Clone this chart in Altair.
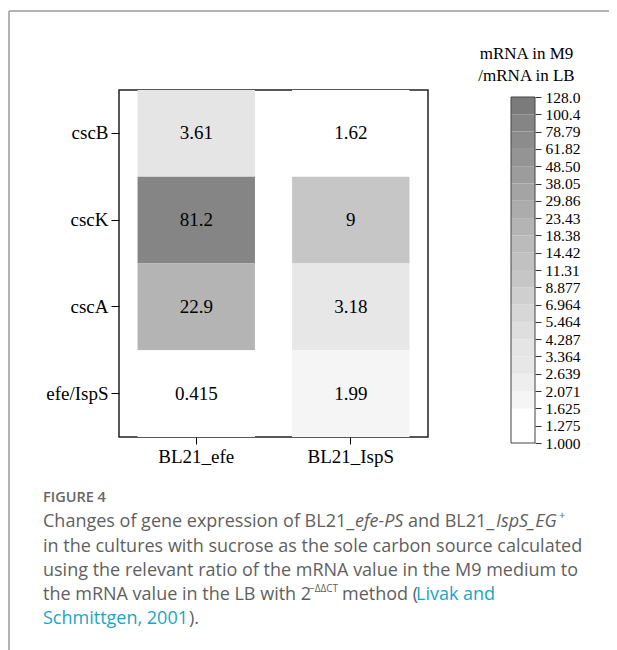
import altair as alt
import pandas as pd

# ---------------- data ----------------
strains = ["BL21_efe", "BL21_IspS"]
genes = ["cscB", "cscK", "cscA", "efe/IspS"]
efe_values = [3.61, 81.2, 22.9, 0.415]
isps_values = [1.62, 9, 3.18, 1.99]
efe_labels = ["3.61", "81.2", "22.9", "0.415"]
isps_labels = ["1.62", "9", "3.18", "1.99"]

legend_ticks = [1.000, 1.275, 1.625, 2.071, 2.639, 3.364, 4.287, 5.464, 6.964,
                8.877, 11.31, 14.42, 18.38, 23.43, 29.86, 38.05, 48.50, 61.82,
                78.79, 100.4, 128.0]
legend_title = ["mRNA in M9", "/mRNA in LB"]

# ---------------- styles ----------------
bin_greys = [255, 255, 245, 238, 231, 229, 222, 215, 207, 198,
             193, 187, 180, 172, 164, 156, 148, 140, 133, 123]
grey_hex = ["#%02x%02x%02x" % (g, g, g) for g in bin_greys]
SERIF = "Liberation Serif"
SANS = "Open Sans"
OX, OY = 119, 90          # page position of the heat-map plot area
W, H = 309, 347
BAR_L, BAR_R = 511, 535   # page x of the colour bar


def rx(x):
    return x - OX


def ry(y):
    return y - OY


color_scale = alt.Scale(type="threshold", domain=legend_ticks[1:-1], range=grey_hex)

heat_df = pd.DataFrame({
    "strain": [strains[0]] * 4 + [strains[1]] * 4,
    "gene": genes + genes,
    "value": efe_values + isps_values,
    "label": efe_labels + isps_labels,
})

xenc = alt.X("strain:N", sort=strains, title=None,
             scale=alt.Scale(paddingInner=0.24, paddingOuter=0.12),
             axis=alt.Axis(labelAngle=0, labelFont=SERIF, labelFontSize=19,
                           labelColor="black", tickColor="black", tickSize=7,
                           labelPadding=3, domain=False))
yenc = alt.Y("gene:N", sort=genes, title=None,
             scale=alt.Scale(paddingInner=0, paddingOuter=0),
             axis=alt.Axis(labelFont=SERIF, labelFontSize=19, labelColor="black",
                           tickColor="black", tickSize=8, labelPadding=3,
                           domain=False))

heat_rect = alt.Chart(heat_df).mark_rect(strokeWidth=0).encode(
    x=xenc, y=yenc,
    color=alt.Color("value:Q", scale=color_scale, legend=None),
)
heat_text = alt.Chart(heat_df).mark_text(font=SERIF, fontSize=19, color="black",
                                         baseline="middle").encode(
    x=alt.X("strain:N", sort=strains), y=alt.Y("gene:N", sort=genes),
    text="label:N",
)
heat = alt.layer(heat_rect, heat_text)

# ---------------- colour bar ----------------
bins_df = pd.DataFrame({"lo": legend_ticks[:-1], "hi": legend_ticks[1:]})
outline_df = pd.DataFrame({"lo": [legend_ticks[0]], "hi": [legend_ticks[-1]]})

cb_y = alt.Y("lo:Q", title=legend_title,
             scale=alt.Scale(type="log", domain=[legend_ticks[0], legend_ticks[-1]],
                             range=[ry(443), ry(97)], nice=False, zero=False),
             axis=alt.Axis(orient="right", offset=BAR_R - OX - W, values=legend_ticks,
                           format=".4r", grid=False, domain=False,
                           labelFont=SERIF, labelFontSize=15.5, labelColor="black",
                           tickColor="#333", tickSize=6, labelPadding=4,
                           titleFont=SERIF, titleFontSize=17, titleFontWeight="normal",
                           titleColor="black", titleAngle=0, titleAlign="center",
                           titleBaseline="alphabetic", titleX=-9, titleY=ry(58),
                           titleLineHeight=22))

cb_bins = alt.Chart(bins_df).mark_rect(strokeWidth=0).encode(
    y=cb_y, y2="hi:Q",
    x=alt.value(rx(BAR_L)), x2=alt.value(rx(BAR_R)),
    color=alt.Color("lo:Q", scale=color_scale, legend=None),
)
cb_outline = alt.Chart(outline_df).mark_rect(fillOpacity=0, stroke="#444",
                                             strokeWidth=1).encode(
    y=alt.Y("lo:Q"), y2="hi:Q",
    x=alt.value(rx(BAR_L)), x2=alt.value(rx(BAR_R)),
)
colorbar = alt.layer(cb_bins, cb_outline)

# ---------------- page border ----------------
one = pd.DataFrame({"a": [0]})
border_top = alt.Chart(one).mark_rule(color="#9a9a9a", strokeWidth=1.5).encode(
    x=alt.value(rx(9)), x2=alt.value(rx(617)), y=alt.value(ry(11)))
border_left = alt.Chart(one).mark_rule(color="#9a9a9a", strokeWidth=1.5).encode(
    x=alt.value(rx(9)), y=alt.value(ry(11)), y2=alt.value(ry(650)))

# ---------------- caption ----------------
GREY = "#5f5f5f"
LINK = "#17a6c6"
caption_segments = [
    # text, page x, page baseline y, colour, style, size, weight
    ("FIGURE 4", 43, 502, "#666666", "normal", 14.5, 600),
    ("Changes of gene expression of BL21_", 43, 527, GREY, "normal", 18, 400),
    ("efe-PS", 355, 527, GREY, "italic", 18, 400),
    (" and BL21_", 408, 527, GREY, "normal", 18, 400),
    ("IspS_EG", 496, 527, GREY, "italic", 18, 400),
    ("+", 559, 519, GREY, "normal", 11, 400),
    ("in the cultures with sucrose as the sole carbon source calculated", 43, 552, GREY, "normal", 18, 400),
    ("using the relevant ratio of the mRNA value in the M9 medium to", 43, 576, GREY, "normal", 18, 400),
    ("the mRNA value in the LB with 2", 43, 600, GREY, "normal", 18, 400),
    ("\u2212\u0394\u0394CT", 309, 592, GREY, "normal", 10, 400),
    ("method (", 342, 600, GREY, "normal", 18, 400),
    ("Livak and", 416, 600, LINK, "normal", 18, 400),
    ("Schmittgen, 2001", 43, 624, LINK, "normal", 18, 400),
    (").", 189, 624, GREY, "normal", 18, 400),
]
caption_layers = []
for txt, x, y, col, style, size, weight in caption_segments:
    caption_layers.append(
        alt.Chart(pd.DataFrame({"t": [txt]})).mark_text(
            font=SANS, fontSize=size, fontStyle=style, fontWeight=weight, color=col,
            align="left", baseline="alphabetic").encode(
            text="t:N", x=alt.value(rx(x)), y=alt.value(ry(y)))
    )

chart = alt.layer(
    heat, colorbar, border_top, border_left, *caption_layers
).resolve_scale(
    y="independent", color="independent"
).properties(
    width=W, height=H,
    background="white",
    autosize=alt.AutoSizeParams(type="none"),
    padding={"left": OX - 8, "top": OY - 8, "right": 601 - (OX - 8) - W,
             "bottom": 642 - (OY - 8) - H},
).configure_view(
    stroke="#222222", strokeWidth=1.5
)

chart.save("out.html", embed_options={"renderer": "svg", "actions": False})
